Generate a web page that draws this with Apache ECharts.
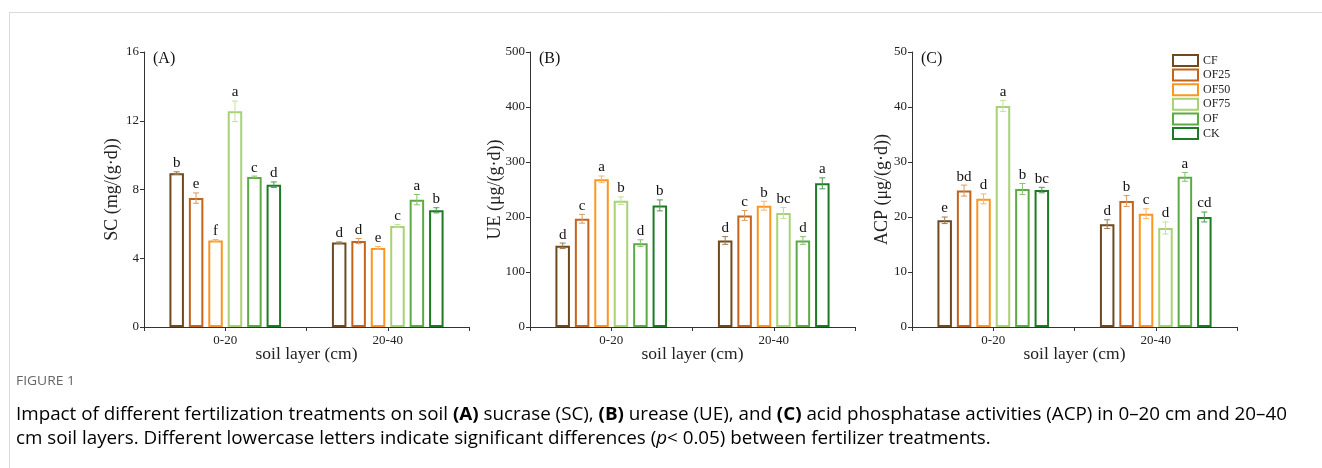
<!DOCTYPE html>
<html><head><meta charset="utf-8">
<script src="https://cdn.jsdelivr.net/npm/echarts@6/dist/echarts.min.js"></script>
<style>html,body{margin:0;padding:0;background:#fff}#c{width:1322px;height:468px}</style>
</head><body><div id="c"></div>
<script>
const categories = ['0-20', '20-40'];
const treatments = ['CF', 'OF25', 'OF50', 'OF75', 'OF', 'CK'];
const colors = ['#6e4a1e', '#c4641c', '#fb961f', '#a8d273', '#5caa44', '#1c7a24'];
const errColors = ['#9c7a52', '#d99a62', '#fbb666', '#c2e0a0', '#86c070', '#4f9a55'];

// SC (mg/(g·d)) — rows: treatments, cols: soil layers
const scMean = [[8.95, 4.91], [7.50, 5.00], [5.04, 4.60], [12.55, 5.88], [8.73, 7.41], [8.28, 6.79]];
const scErr = [[0.08, 0.04], [0.30, 0.15], [0.05, 0.08], [0.60, 0.08], [0.05, 0.30], [0.16, 0.15]];
const scLetters = [['b', 'd'], ['e', 'd'], ['f', 'e'], ['a', 'c'], ['c', 'a'], ['d', 'b']];

// UE (μg/(g·d))
const ueMean = [[147.6, 157.3], [196.8, 202.9], [268.5, 220.5], [229.6, 207.2], [152.5, 157.3], [221.1, 261.2]];
const ueErr = [[5, 7], [8, 9], [6, 8], [7, 10], [6, 7], [10, 10]];
const ueLetters = [['d', 'd'], ['c', 'c'], ['a', 'b'], ['b', 'bc'], ['d', 'd'], ['b', 'a']];

// ACP (μg/(g·d))
const acpMean = [[19.4, 18.7], [24.8, 22.9], [23.3, 20.6], [40.2, 18.0], [25.1, 27.3], [24.9, 20.0]];
const acpErr = [[0.6, 0.8], [1.0, 1.0], [0.9, 0.9], [1.0, 1.1], [1.0, 0.8], [0.5, 0.9]];
const acpLetters = [['e', 'd'], ['bd', 'b'], ['d', 'c'], ['a', 'd'], ['b', 'a'], ['bc', 'cd']];

const yTicks = { sc: [0, 16, 4], ue: [0, 500, 100], acp: [0, 50, 10] };

const figureLabel = 'FIGURE 1';
const captionLine1 = [['n', 'Impact of different fertilization treatments on soil '], ['b', '(A)'], ['n', ' sucrase (SC), '], ['b', '(B)'], ['n', ' urease (UE), and '], ['b', '(C)'], ['n', ' acid phosphatase activities (ACP) in 0–20 cm and 20–40']];
const captionLine2 = [['n', 'cm soil layers. Different lowercase letters indicate significant differences ('], ['i', 'p'], ['n', '< 0.05) between fertilizer treatments.']];

const SERIF = '"Liberation Serif","Times New Roman",serif';
const SANS = '"Open Sans","Noto Sans",sans-serif';
const BAR_W = 14.5, BAR_GAP = 0.34;
const PITCH = BAR_W * (1 + BAR_GAP);

const panels = [
  { key: 'sc', label: '(A)', name: 'SC (mg/(g·d))', mean: scMean, err: scErr, letters: scLetters, left: 144, nameGap: 23, lx: 153 },
  { key: 'ue', label: '(B)', name: 'UE (μg/(g·d))', mean: ueMean, err: ueErr, letters: ueLetters, left: 530, nameGap: 26, lx: 539 },
  { key: 'acp', label: '(C)', name: 'ACP (μg/(g·d))', mean: acpMean, err: acpErr, letters: acpLetters, left: 912, nameGap: 21, lx: 921 }
];

const grid = [], xAxis = [], yAxis = [], series = [], graphic = [];
const axisLine = { show: true, lineStyle: { color: '#333', width: 1 } };

panels.forEach((p, gi) => {
  grid.push({ left: p.left, top: 52, width: 325, height: 275 });
  xAxis.push({
    type: 'category', gridIndex: gi, data: categories, position: 'bottom',
    axisLine: axisLine, axisTick: { show: true, length: 4, lineStyle: { color: '#333' } },
    axisLabel: { color: '#222', fontFamily: SERIF, fontSize: 13, margin: 7 },
    name: 'soil layer (cm)', nameLocation: 'middle', nameGap: 18, nameMoveOverlap: false,
    nameTextStyle: { color: '#222', fontFamily: SERIF, fontSize: 17.5 }
  });
  xAxis.push({
    type: 'category', gridIndex: gi, data: categories, position: 'bottom',
    axisLine: { show: false }, axisLabel: { show: false },
    axisTick: { show: true, alignWithLabel: true, length: 4, lineStyle: { color: '#333' } }
  });
  const t = yTicks[p.key];
  yAxis.push({
    type: 'value', gridIndex: gi, min: t[0], max: t[1], interval: t[2],
    axisLine: axisLine, axisTick: { show: true, length: 4, lineStyle: { color: '#333' } },
    splitLine: { show: false },
    axisLabel: { color: '#222', fontFamily: SERIF, fontSize: 13, margin: 5 },
    name: p.name, nameLocation: 'middle', nameGap: p.nameGap, nameRotate: 90, nameMoveOverlap: false,
    nameTextStyle: { color: '#222', fontFamily: SERIF, fontSize: 18 }
  });
  treatments.forEach((tr, ti) => {
    series.push({
      type: 'bar', name: tr, xAxisIndex: gi * 2, yAxisIndex: gi,
      data: p.mean[ti], barWidth: BAR_W, barGap: (BAR_GAP * 100) + '%',
      itemStyle: { color: '#fff', borderColor: colors[ti], borderWidth: 2 },
      emphasis: { disabled: true }, animation: false
    });
  });
  const cdata = [];
  treatments.forEach((tr, ti) => {
    categories.forEach((c, ci) => {
      cdata.push([ci, p.mean[ti][ci], p.err[ti][ci], ti, p.letters[ti][ci]]);
    });
  });
  series.push({
    type: 'custom', xAxisIndex: gi * 2, yAxisIndex: gi, data: cdata, animation: false, silent: true, z: 5,
    renderItem: function (params, api) {
      const ci = api.value(0), m = api.value(1), e = api.value(2), ti = api.value(3);
      const letter = cdata[params.dataIndex][4];
      const cx = api.coord([ci, 0])[0] + (ti - 2.5) * PITCH;
      const yt = api.coord([ci, m + e])[1];
      const yb = api.coord([ci, m - e])[1];
      const col = errColors[ti];
      const hw = 3;
      return {
        type: 'group', children: [
          { type: 'line', shape: { x1: cx, y1: yt, x2: cx, y2: yb }, style: { stroke: col, lineWidth: 1 } },
          { type: 'line', shape: { x1: cx - hw, y1: yt, x2: cx + hw, y2: yt }, style: { stroke: col, lineWidth: 1 } },
          { type: 'line', shape: { x1: cx - hw, y1: yb, x2: cx + hw, y2: yb }, style: { stroke: col, lineWidth: 1 } },
          { type: 'text', x: cx, y: yt - 1, style: { text: letter, fill: '#111', font: '15px ' + SERIF, textAlign: 'center', textVerticalAlign: 'bottom' } }
        ]
      };
    }
  });
  graphic.push({ type: 'text', x: p.lx, y: 59, style: { text: p.label, fill: '#111', font: '16px ' + SERIF, textVerticalAlign: 'middle' } });
});

// figure frame
graphic.push({ type: 'line', shape: { x1: 9, y1: 12.5, x2: 1322, y2: 12.5 }, style: { stroke: '#dadada', lineWidth: 1 } });
graphic.push({ type: 'line', shape: { x1: 9.5, y1: 12, x2: 9.5, y2: 468 }, style: { stroke: '#dadada', lineWidth: 1 } });

// caption (condensed look via horizontal scaling)
const mctx = document.createElement('canvas').getContext('2d');
const CAP_SIZE = 18;
const fontFor = k => (k === 'b' ? 'bold ' : k === 'i' ? 'italic ' : '') + CAP_SIZE + 'px ' + SANS;
function lineWidth(segs) { let w = 0; segs.forEach(s => { mctx.font = fontFor(s[0]); w += mctx.measureText(s[1]).width; }); return w; }
const capRich = {
  n: { fontFamily: SANS, fontSize: CAP_SIZE, color: '#555', fontWeight: 'normal' },
  b: { fontFamily: SANS, fontSize: CAP_SIZE, color: '#555', fontWeight: 'bold' },
  i: { fontFamily: SANS, fontSize: CAP_SIZE, color: '#555', fontWeight: 'normal', fontStyle: 'italic' }
};
const toRich = segs => segs.map(s => '{' + s[0] + '|' + s[1] + '}').join('');
const sx = 1271 / lineWidth(captionLine1);
graphic.push({ type: 'text', x: 16, y: 415, scaleX: sx, style: { text: toRich(captionLine1), rich: capRich, textVerticalAlign: 'middle' } });
graphic.push({ type: 'text', x: 16, y: 439, scaleX: sx, style: { text: toRich(captionLine2), rich: capRich, textVerticalAlign: 'middle' } });
mctx.font = '12px ' + SANS;
const fsx = 59 / mctx.measureText(figureLabel).width;
graphic.push({ type: 'text', x: 16, y: 382, scaleX: fsx, style: { text: figureLabel, fill: '#666', font: '12px ' + SANS, textVerticalAlign: 'middle' } });

const chart = echarts.init(document.getElementById('c'), null, { renderer: 'canvas' });
chart.setOption({
  animation: false,
  grid: grid, xAxis: xAxis, yAxis: yAxis, series: series, graphic: graphic,
  legend: {
    data: treatments, orient: 'vertical', left: 1172, top: 54, itemWidth: 25, itemHeight: 11, itemGap: 1.6,
    icon: 'rect', itemStyle: { borderWidth: 2 },
    textStyle: { fontFamily: SERIF, fontSize: 12, color: '#222' }, padding: 0
  }
});
</script></body></html>
